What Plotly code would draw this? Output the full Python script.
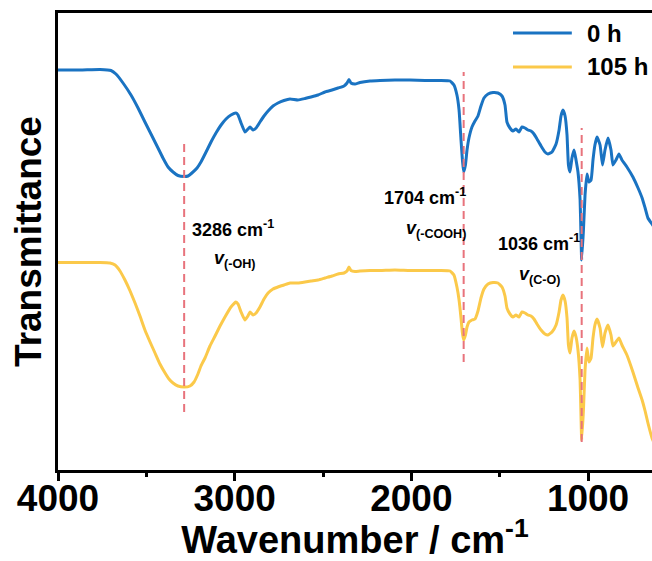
import plotly.graph_objects as go

# FTIR spectra, transmittance in arbitrary units (curves offset vertically)
wn_0h = [4000, 3875, 3762, 3700, 3672, 3632, 3587, 3547, 3508, 3468, 3434, 3406, 3377, 3349,
         3321, 3286, 3264, 3242, 3213, 3191, 3162, 3134, 3106, 3077, 3049, 3021, 2993, 2981,
         2964, 2942, 2925, 2913, 2896, 2879, 2857, 2834, 2811, 2783, 2755, 2721, 2687, 2642,
         2602, 2568, 2528, 2489, 2449, 2415, 2381, 2364, 2353, 2342, 2319, 2291, 2234, 2177,
         2093, 2008, 1923, 1838, 1781, 1759, 1742, 1730, 1719, 1711, 1704, 1694, 1685, 1674,
         1657, 1640, 1623, 1606, 1589, 1566, 1538, 1510, 1487, 1470, 1459, 1442, 1425, 1408,
         1391, 1374, 1357, 1340, 1323, 1306, 1289, 1266, 1244, 1227, 1204, 1181, 1164, 1153,
         1142, 1130, 1119, 1111, 1102, 1091, 1079, 1068, 1057, 1045, 1040, 1036, 1026, 1017,
         1006, 995, 983, 972, 961, 949, 932, 918, 904, 887, 870, 859, 842, 825, 808, 780,
         746, 717, 694, 677, 661, 638, 615]
t_0h = [80.0, 80.0, 80.1, 79.9, 79.2, 77.4, 75.0, 72.4, 69.6, 66.8, 64.4, 62.4, 60.6, 59.6,
        58.9, 58.7, 58.8, 59.4, 60.4, 61.6, 63.6, 65.6, 67.4, 69.0, 70.2, 71.0, 71.4, 71.0,
        69.4, 67.6, 68.2, 68.6, 68.0, 68.4, 69.6, 70.8, 71.8, 72.8, 73.4, 73.9, 74.2, 74.0,
        74.3, 74.6, 75.0, 75.6, 76.0, 76.4, 76.8, 77.4, 78.1, 77.4, 77.2, 77.5, 77.8, 77.9,
        78.0, 78.0, 77.9, 77.9, 77.8, 77.0, 75.0, 72.0, 66.0, 62.0, 59.6, 61.0, 64.0, 66.4,
        68.6, 69.8, 70.8, 72.8, 74.4, 75.2, 75.5, 75.4, 74.8, 73.0, 69.6, 68.4, 67.8, 68.2,
        67.6, 68.6, 68.4, 68.0, 67.8, 67.2, 66.2, 64.8, 63.6, 63.2, 63.6, 65.2, 68.0, 70.8,
        72.0, 70.8, 67.0, 61.0, 59.6, 62.4, 64.0, 62.0, 59.6, 54.0, 47.0, 42.0, 48.0, 55.0,
        59.2, 57.6, 58.0, 62.0, 65.0, 66.6, 65.0, 61.0, 64.0, 66.4, 64.0, 61.0, 62.0, 63.2,
        62.0, 60.6, 58.6, 56.4, 54.4, 52.4, 50.4, 49.2, 48.0]

wn_105h = [4000, 3875, 3762, 3706, 3677, 3649, 3621, 3592, 3564, 3536, 3508, 3479, 3451, 3423,
           3394, 3372, 3349, 3321, 3286, 3253, 3230, 3208, 3191, 3168, 3140, 3111, 3083, 3055,
           3021, 2993, 2981, 2964, 2942, 2925, 2913, 2896, 2879, 2857, 2834, 2811, 2783, 2755,
           2721, 2687, 2642, 2602, 2568, 2528, 2489, 2449, 2415, 2381, 2364, 2353, 2342, 2319,
           2291, 2234, 2177, 2093, 2008, 1923, 1838, 1781, 1759, 1742, 1730, 1719, 1711, 1704,
           1694, 1685, 1674, 1657, 1640, 1623, 1606, 1589, 1566, 1538, 1510, 1487, 1470, 1459,
           1442, 1425, 1408, 1391, 1374, 1357, 1340, 1323, 1306, 1289, 1266, 1244, 1227, 1204,
           1181, 1164, 1153, 1142, 1130, 1119, 1111, 1102, 1091, 1079, 1068, 1057, 1045, 1040,
           1036, 1026, 1017, 1006, 995, 983, 972, 961, 949, 932, 918, 904, 887, 870, 859, 842,
           825, 808, 780, 746, 717, 694, 677, 661, 638, 615]
t_105h = [41.5, 41.5, 41.5, 41.4, 41.0, 39.8, 38.0, 35.8, 33.4, 30.8, 28.0, 25.6, 23.4, 21.2,
          19.4, 18.2, 17.4, 16.8, 16.6, 16.8, 17.6, 19.2, 20.8, 22.4, 24.8, 26.8, 28.8, 30.6,
          32.6, 33.6, 33.2, 31.6, 30.0, 30.8, 31.6, 31.0, 31.4, 32.6, 34.2, 35.4, 36.2, 36.6,
          37.0, 37.4, 37.4, 37.6, 37.8, 38.0, 38.4, 38.8, 39.2, 39.4, 39.8, 40.6, 39.9, 39.7,
          39.8, 39.9, 39.9, 40.0, 39.9, 39.9, 39.9, 39.8, 39.0, 36.6, 34.0, 30.4, 27.4, 26.0,
          27.0, 28.6, 29.6, 30.0, 30.2, 31.8, 34.4, 36.2, 37.2, 37.5, 37.4, 36.6, 34.8, 32.4,
          31.2, 30.6, 31.0, 30.6, 31.6, 31.4, 31.0, 30.8, 30.2, 29.2, 28.0, 27.2, 27.0, 27.6,
          29.0, 31.6, 34.0, 35.0, 33.8, 30.4, 25.0, 23.4, 26.4, 27.8, 26.6, 24.0, 18.0, 11.0,
          6.0, 12.0, 20.0, 24.4, 21.6, 22.4, 26.4, 29.0, 30.2, 28.4, 24.6, 27.4, 29.0, 27.0,
          24.8, 25.6, 26.4, 25.0, 23.0, 19.6, 16.4, 14.0, 11.8, 9.4, 6.4, 4.4]

# Marked band positions and the span of each guide line
peak_wn = [3286, 1704, 1036]
guide_top = [66.0, 79.6, 68.4]
guide_bottom = [11.6, 21.6, 5.6]

series_names = ["0 h", "105 h"]
series_colors = ["#1a73c2", "#fbc94a"]

FONT = "Liberation Sans, Arial, sans-serif"

fig = go.Figure()
for wn, t, name, color in zip([wn_0h, wn_105h], [t_0h, t_105h], series_names, series_colors):
    fig.add_trace(go.Scatter(x=wn, y=t, mode="lines", name=name,
                             line=dict(color=color, width=3, shape="spline", smoothing=0.4),
                             showlegend=False))

# dashed guide lines at the assigned bands
for w, top, bot in zip(peak_wn, guide_top, guide_bottom):
    fig.add_shape(type="line", xref="x", yref="y", x0=w, x1=w, y0=bot, y1=top,
                  line=dict(color="#e8737c", width=2, dash="8px,5px"), layer="above")

# band labels
band_labels = [
    (3253, 48.4, "3286 cm<sup>-1</sup>"),
    (3128, 42.2, "<i>v</i><sub>(-OH)</sub>"),
    (2166, 54.8, "1704 cm<sup>-1</sup>"),
    (2042, 48.2, "<i>v</i><sub>(-COOH)</sub>"),
    (1521, 45.6, "1036 cm<sup>-1</sup>"),
    (1402, 39.0, "<i>v</i><sub>(C-O)</sub>"),
]
for x, y, txt in band_labels:
    fig.add_annotation(x=x, y=y, xref="x", yref="y", text=txt, showarrow=False,
                       xanchor="left", yanchor="middle",
                       font=dict(family=FONT, size=18, color="black", weight="bold"))

# legend drawn as line keys with labels
legend_y = [0.956, 0.882]
for name, color, ly in zip(series_names, series_colors, legend_y):
    fig.add_shape(type="line", xref="paper", yref="paper", x0=0.766, x1=0.865, y0=ly, y1=ly,
                  line=dict(color=color, width=3))
    fig.add_annotation(x=0.887, y=ly, xref="paper", yref="paper", text=name, showarrow=False,
                       xanchor="left", yanchor="middle",
                       font=dict(family=FONT, size=24, color="black", weight="bold"))

fig.update_layout(
    width=652, height=561,
    margin=dict(l=58, r=0, t=13, b=91),
    paper_bgcolor="white", plot_bgcolor="white",
    font=dict(family=FONT, color="black"),
    xaxis=dict(
        range=[4000, 638], tick0=0, dtick=1000,
        ticks="outside", ticklen=8, tickwidth=2.5, tickcolor="black",
        ticklabelstandoff=-14,
        minor=dict(dtick=500, ticks="outside", ticklen=4, tickwidth=2.5, tickcolor="black"),
        showline=True, linewidth=2.5, linecolor="black", mirror=True,
        showgrid=False, zeroline=False,
        tickfont=dict(family=FONT, size=37, color="black", weight="bold"),
        title=dict(text="Wavenumber / cm<sup>-1</sup>", standoff=7,
                   font=dict(family=FONT, size=38, color="black", weight="bold")),
    ),
    yaxis=dict(
        range=[0, 91.4], showticklabels=False, ticks="",
        showline=True, linewidth=2.5, linecolor="black", mirror=False,
        showgrid=False, zeroline=False,
        title=dict(text="Transmittance", standoff=3,
                   font=dict(family=FONT, size=37, color="black", weight="bold")),
    ),
)

fig.write_html("out.html")
